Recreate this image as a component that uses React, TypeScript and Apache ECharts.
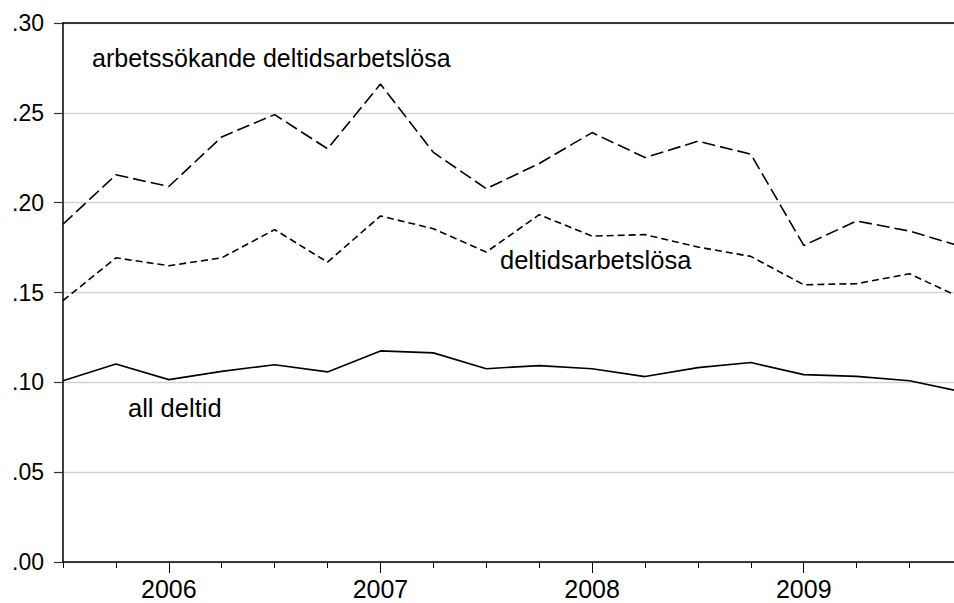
import React, { useEffect, useRef } from "react";
import * as echarts from "echarts";

const quarters = [
  "2005Q3", "2005Q4",
  "2006Q1", "2006Q2", "2006Q3", "2006Q4",
  "2007Q1", "2007Q2", "2007Q3", "2007Q4",
  "2008Q1", "2008Q2", "2008Q3", "2008Q4",
  "2009Q1", "2009Q2", "2009Q3", "2009Q4",
];

const arbetssokandeDeltidsarbetslosa = [
  0.188, 0.2155, 0.209, 0.2366, 0.249, 0.23, 0.266, 0.228, 0.2078,
  0.2218, 0.239, 0.2251, 0.2342, 0.227, 0.1762, 0.1898, 0.1842, 0.1754,
];

const deltidsarbetslosa = [
  0.1455, 0.1693, 0.1649, 0.1693, 0.185, 0.1669, 0.1926, 0.1855, 0.1725,
  0.1933, 0.1814, 0.1822, 0.1753, 0.1701, 0.1543, 0.1549, 0.1604, 0.1467,
];

const allDeltid = [
  0.1009, 0.1102, 0.1015, 0.1061, 0.1098, 0.1058, 0.1175, 0.1164, 0.1076,
  0.1093, 0.1076, 0.1032, 0.1082, 0.111, 0.1043, 0.1033, 0.1009, 0.0947,
];

const yTicks = [0, 0.05, 0.1, 0.15, 0.2, 0.25, 0.3];

const seriesLabels = {
  arbets: "arbetssökande deltidsarbetslösa",
  deltids: "deltidsarbetslösa",
  all: "all deltid",
};

const FONT = "'Liberation Sans', Arial, sans-serif";

export default function App() {
  const ref = useRef<HTMLDivElement>(null);

  useEffect(() => {
    if (!ref.current) return;
    const chart = echarts.init(ref.current, null, { renderer: "svg" });

    const quarterIdx = quarters.map((_, i) => i);
    const yearIdx = quarters
      .map((q, i) => (q.endsWith("Q1") ? i : -1))
      .filter((i) => i >= 0);
    const yearOf = (v: number) => quarters[Math.round(v)]?.slice(0, 4) ?? "";
    const XMAX = 16.84;

    const toPairs = (arr: number[]) => arr.map((v, i) => [i, v]);

    chart.setOption({
      animation: false,
      backgroundColor: "#fff",
      grid: { left: 63, right: 0, top: 23, bottom: 41, containLabel: false },
      xAxis: [
        {
          type: "value",
          min: 0,
          max: XMAX,
          position: "bottom",
          axisLine: { show: true, onZero: false, lineStyle: { color: "#000", width: 1.5 } },
          axisTick: {
            show: true,
            customValues: quarterIdx,
            length: 6,
            lineStyle: { color: "#000", width: 1 },
          },
          axisLabel: {
            show: true,
            customValues: yearIdx,
            formatter: (v: number) => yearOf(v),
            color: "#000",
            fontSize: 25,
            fontFamily: FONT,
            margin: 14,
          },
          splitLine: { show: false },
        },
        {
          type: "value",
          min: 0,
          max: XMAX,
          position: "bottom",
          axisLine: { show: false, onZero: false },
          axisTick: {
            show: true,
            customValues: yearIdx,
            length: 11,
            lineStyle: { color: "#000", width: 1 },
          },
          axisLabel: { show: false },
          splitLine: { show: false },
        },
        {
          type: "value",
          min: 0,
          max: XMAX,
          position: "top",
          axisLine: { show: true, onZero: false, lineStyle: { color: "#000", width: 1.5 } },
          axisTick: { show: false },
          axisLabel: { show: false },
          splitLine: { show: false },
        },
      ],
      yAxis: {
        type: "value",
        min: yTicks[0],
        max: yTicks[yTicks.length - 1],
        interval: 0.05,
        axisLine: { show: true, onZero: false, lineStyle: { color: "#000", width: 1.5 } },
        axisTick: { show: true, length: 9, lineStyle: { color: "#333", width: 1.2 } },
        axisLabel: {
          color: "#000",
          fontSize: 23,
          fontFamily: FONT,
          margin: 19,
          formatter: (v: number) => v.toFixed(2).replace(/^0/, ""),
        },
        splitLine: { show: true, lineStyle: { color: "#d2d2d2", width: 1.3 } },
      },
      series: [
        {
          name: seriesLabels.arbets,
          type: "line",
          data: toPairs(arbetssokandeDeltidsarbetslosa),
          symbol: "none",
          clip: true,
          lineStyle: { color: "#000", width: 1.6, type: [13, 5] },
        },
        {
          name: seriesLabels.deltids,
          type: "line",
          data: toPairs(deltidsarbetslosa),
          symbol: "none",
          clip: true,
          lineStyle: { color: "#000", width: 1.6, type: [7, 4] },
        },
        {
          name: seriesLabels.all,
          type: "line",
          data: toPairs(allDeltid),
          symbol: "none",
          clip: true,
          lineStyle: { color: "#000", width: 1.6 },
        },
      ],
      graphic: [
        {
          type: "text",
          x: 92,
          y: 57.5,
          style: {
            text: seriesLabels.arbets,
            fill: "#000",
            font: `25px ${FONT}`,
            textAlign: "left",
            textVerticalAlign: "middle",
          },
        },
        {
          type: "text",
          x: 500,
          y: 259.5,
          style: {
            text: seriesLabels.deltids,
            fill: "#000",
            font: `25.5px ${FONT}`,
            textAlign: "left",
            textVerticalAlign: "middle",
          },
        },
        {
          type: "text",
          x: 128,
          y: 408,
          style: {
            text: seriesLabels.all,
            fill: "#000",
            font: `25.5px ${FONT}`,
            textAlign: "left",
            textVerticalAlign: "middle",
          },
        },
      ],
    });

    return () => chart.dispose();
  }, []);

  return (
    <div
      ref={ref}
      style={{ position: "absolute", left: 0, top: 0, width: 954, height: 603 }}
    />
  );
}
